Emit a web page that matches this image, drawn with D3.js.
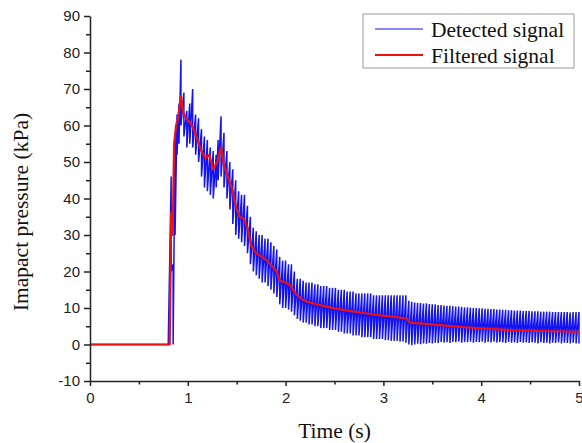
<!DOCTYPE html>
<html>
<head>
<meta charset="utf-8">
<script src="https://cdn.jsdelivr.net/npm/d3@7"></script>
<style>
  body { margin: 0; background: #fff; }
  svg { display: block; }
  .tick text { font-family: "Liberation Sans", Arial, sans-serif; font-size: 15px; fill: #222; }
  .axis path, .axis line { stroke: #222; stroke-width: 1.5px; }
  .title { font-family: "Liberation Serif", "Times New Roman", serif; font-size: 21.5px; fill: #111; }
</style>
</head>
<body>
<svg id="chart" width="582" height="443"></svg>
<script>
// Detected signal: time (s), upper and lower swing of each oscillation (kPa)
const detectedTime = [
  0.80, 0.83, 0.85, 0.87, 0.89, 0.91, 0.93, 0.96, 0.99, 1.02, 1.05, 1.08, 1.11, 1.14, 1.17,
  1.20, 1.23, 1.26, 1.29, 1.31, 1.34, 1.37, 1.40, 1.43, 1.46, 1.49, 1.52, 1.55, 1.58, 1.61,
  1.64, 1.67, 1.70, 1.73, 1.76, 1.79, 1.82, 1.85, 1.88, 1.91, 1.94, 1.97, 2.00, 2.03, 2.06,
  2.09, 2.12, 2.15, 2.18, 2.21, 2.24, 2.27, 2.30, 2.33, 2.36, 2.39, 2.42, 2.45, 2.48, 2.51,
  2.54, 2.57, 2.60, 2.63, 2.66, 2.69, 2.72, 2.75, 2.78, 2.81, 2.84, 2.87, 2.90, 2.93, 2.96,
  2.99, 3.02, 3.05, 3.08, 3.11, 3.14, 3.17, 3.20, 3.23, 3.26, 3.29, 3.32, 3.35, 3.38, 3.41,
  3.44, 3.47, 3.50, 3.53, 3.56, 3.59, 3.62, 3.65, 3.68, 3.71, 3.74, 3.77, 3.80, 3.83, 3.86,
  3.89, 3.92, 3.95, 3.98, 4.01, 4.04, 4.07, 4.10, 4.13, 4.16, 4.19, 4.22, 4.25, 4.28, 4.31,
  4.34, 4.37, 4.40, 4.43, 4.46, 4.49, 4.52, 4.55, 4.58, 4.61, 4.64, 4.67, 4.70, 4.73, 4.76,
  4.79, 4.82, 4.85, 4.88, 4.91, 4.94, 4.97, 5.00
];
const detectedHigh = [
  0, 46, 22, 58, 63, 66, 78, 69, 64, 66, 70, 63, 62, 59, 57,
  56, 54, 53, 52, 56, 62.5, 58, 53, 50, 48, 45, 42, 41, 41, 38,
  35, 32, 31, 30, 30, 29, 29, 28, 27, 26, 24, 23, 23, 22, 22,
  20, 18, 18, 17.5, 17, 17, 17, 16.5, 16.5, 16, 16, 16, 15.5, 15.5, 15.5,
  15, 15, 15, 14.5, 14.5, 14.5, 14, 14, 14, 14, 14, 14, 13.5, 13.5, 13.5,
  13.5, 13.5, 13.5, 13.5, 13.5, 13.5, 13.5, 13.5, 13.5, 12, 11.7, 11.5, 11.4, 11.4, 11.2,
  11.3, 11.1, 11.0, 11.0, 10.8, 10.8, 10.7, 10.6, 10.6, 10.5, 10.4, 10.4, 10.3, 10.2, 10.2,
  10.1, 10.0, 10.0, 9.9, 9.9, 9.8, 9.8, 9.7, 9.7, 9.6, 9.6, 9.5, 9.5, 9.4, 9.4,
  9.3, 9.3, 9.3, 9.2, 9.2, 9.2, 9.1, 9.1, 9.1, 9.0, 9.0, 9.0, 9.0, 8.9, 8.9,
  8.9, 8.9, 8.9, 8.9, 8.8, 8.9, 8.9, 8.9
];
const detectedLow = [
  0, 20, 0, 30, 52, 55, 60, 57, 54, 55, 54, 52, 50, 46, 43,
  42, 41, 40, 43, 45, 46, 43, 40, 37, 33, 30, 29, 28, 27, 25,
  22, 20, 19, 18, 17, 17, 16, 15, 14, 13, 11, 10, 10, 9.5, 9,
  8, 7, 6.5, 6, 6, 5.5, 5.5, 5, 5, 4.5, 4.5, 4.5, 4, 4, 4,
  3.5, 3.5, 3, 3, 3, 2.5, 2.5, 2.5, 2, 2, 2, 2, 1.5, 1.5, 1.5,
  1.5, 1.2, 1.2, 1, 1, 1, 0.8, 0.8, 0.5, 0, -0.2, 0, 0.2, 0.1, 0.3,
  0.2, 0.4, 0.3, 0.5, 0.4, 0.7, 0.5, 0.6, 0.4, 0.7, 0.6, 0.8, 0.5, 0.7, 0.6,
  0.8, 0.5, 0.7, 0.6, 0.8, 0.5, 0.7, 0.6, 0.8, 0.5, 0.7, 0.6, 0.4, 0.7, 0.5,
  0.6, 0.4, 0.7, 0.5, 0.6, 0.4, 0.6, 0.5, 0.3, 0.6, 0.4, 0.5, 0.3, 0.5, 0.4,
  0.6, 0.3, 0.5, 0.4, 0.3, 0.5, 0.3, 0.3
];

// Filtered signal
const filteredTime = [
  0, 0.80, 0.815, 0.83, 0.845, 0.86, 0.88, 0.90, 0.93, 0.95, 0.98, 1.02, 1.06, 1.10, 1.14,
  1.18, 1.22, 1.26, 1.30, 1.34, 1.37, 1.41, 1.45, 1.49, 1.53, 1.57, 1.61, 1.65, 1.70, 1.76,
  1.81, 1.86, 1.91, 1.94, 2.00, 2.05, 2.10, 2.16, 2.22, 2.35, 2.50, 2.65, 2.83, 2.97, 3.10,
  3.24, 3.27, 3.40, 3.58, 3.80, 4.00, 4.33, 4.60, 5.00
];
const filteredValue = [
  0, 0, 0, 36, 30, 55, 60, 62, 68, 64, 62, 61, 59, 56, 53,
  51, 52, 48, 50, 54, 49, 46, 43, 38, 35, 34.5, 32, 27, 25, 24,
  23, 21.5, 20, 17.5, 17, 16.2, 14, 12.5, 11.7, 10.8, 9.9, 9.2, 8.5, 8.0, 7.6,
  7.1, 6.0, 5.7, 5.3, 4.8, 4.4, 3.9, 3.7, 3.5
];

const yMajor = [-10, 0, 10, 20, 30, 40, 50, 60, 70, 80, 90];
const yMinor = [-5, 5, 15, 25, 35, 45, 55, 65, 75, 85];
const xMajor = [0, 1, 2, 3, 4, 5];
const xMinor = [0.5, 1.5, 2.5, 3.5, 4.5];

const legendItems = [
  { label: 'Detected signal', color: '#1414f0', width: 1.2 },
  { label: 'Filtered signal', color: '#ee1111', width: 2.2 }
];

const margin = { left: 90, right: 3, top: 16, bottom: 62 };
const width = 582, height = 443;

const svg = d3.select('#chart');

const x = d3.scaleLinear().domain([0, 5]).range([margin.left, width - margin.right]);
const y = d3.scaleLinear().domain([-10, 90]).range([height - margin.bottom, margin.top]);

// detected signal: vertical swing at each sample, then on to the next
const detectedPoints = [[0, 0]];
detectedTime.forEach((t, i) => {
  detectedPoints.push([t, detectedHigh[i]]);
  detectedPoints.push([t, detectedLow[i]]);
});
const line = d3.line().x(d => x(d[0])).y(d => y(d[1]));

svg.append('path')
  .datum(detectedPoints)
  .attr('d', line)
  .attr('fill', 'none')
  .attr('stroke', legendItems[0].color)
  .attr('stroke-width', 1.5)
  .attr('stroke-linejoin', 'miter');

svg.append('path')
  .datum(filteredTime.map((t, i) => [t, filteredValue[i]]))
  .attr('d', line)
  .attr('fill', 'none')
  .attr('stroke', legendItems[1].color)
  .attr('stroke-width', legendItems[1].width)
  .attr('stroke-linejoin', 'round');

// axes (labels as plain integers with a hyphen minus, like the original)
const fmt = d => String(d);

svg.append('g').attr('class', 'axis')
  .attr('transform', `translate(${margin.left},0)`)
  .call(d3.axisLeft(y).tickValues(yMajor).tickSize(6).tickPadding(4).tickSizeOuter(0).tickFormat(fmt));
svg.append('g').attr('class', 'axis')
  .attr('transform', `translate(${margin.left},0)`)
  .call(d3.axisLeft(y).tickValues(yMinor).tickSize(4).tickFormat('').tickSizeOuter(0))
  .select('.domain').remove();

svg.append('g').attr('class', 'axis')
  .attr('transform', `translate(0,${height - margin.bottom})`)
  .call(d3.axisBottom(x).tickValues(xMajor).tickSize(5).tickPadding(6).tickSizeOuter(0).tickFormat(fmt));
svg.append('g').attr('class', 'axis')
  .attr('transform', `translate(0,${height - margin.bottom})`)
  .call(d3.axisBottom(x).tickValues(xMinor).tickSize(3.5).tickFormat('').tickSizeOuter(0))
  .select('.domain').remove();

// axis titles
svg.append('text').attr('class', 'title')
  .attr('x', (x(0) + x(5)) / 2)
  .attr('y', 438)
  .attr('text-anchor', 'middle')
  .text('Time (s)');

svg.append('text').attr('class', 'title')
  .attr('transform', `translate(28,${212}) rotate(-90)`)
  .attr('text-anchor', 'middle')
  .text('Imapact pressure (kPa)');

// legend
const legend = svg.append('g').attr('transform', 'translate(363,14)');
legend.append('rect')
  .attr('width', 211).attr('height', 54)
  .attr('fill', '#fff').attr('stroke', '#9a9a9a').attr('stroke-width', 1);
legendItems.forEach((d, i) => {
  const row = legend.append('g').attr('transform', `translate(0,${15 + i * 26})`);
  row.append('line')
    .attr('x1', 12).attr('x2', 60)
    .attr('stroke', d.color).attr('stroke-width', d.width);
  row.append('text').attr('class', 'title')
    .attr('x', 68).attr('y', 7.5)
    .text(d.label);
});
</script>
</body>
</html>
